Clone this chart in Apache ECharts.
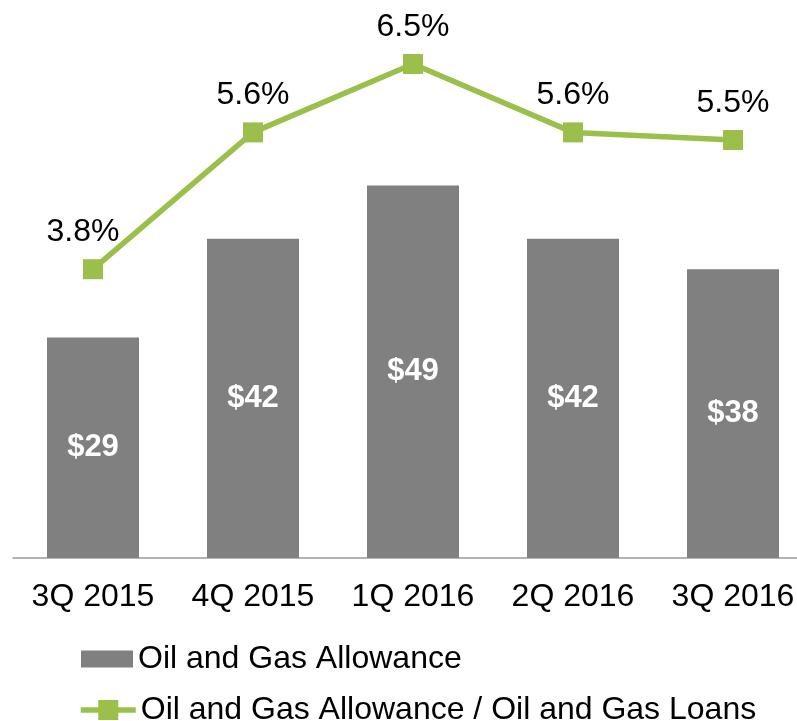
<!DOCTYPE html>
<html>
<head>
<meta charset="utf-8">
<script src="https://cdn.jsdelivr.net/npm/echarts@6/dist/echarts.min.js"></script>
<style>
  html, body { margin: 0; padding: 0; background: #fff; }
  #chart { width: 797px; height: 721px; }
</style>
</head>
<body>
<div id="chart"></div>
<script>
var quarters = ['3Q 2015', '4Q 2015', '1Q 2016', '2Q 2016', '3Q 2016'];
var allowance = [29, 42, 49, 42, 38];          // $ millions
var allowancePct = [3.8, 5.6, 6.5, 5.6, 5.5];  // % of oil and gas loans

var FONT = "'Liberation Sans', Arial, sans-serif";
var GREEN = '#9BBF4B';
var GREY = '#808080';

var chart = echarts.init(document.getElementById('chart'));

var option = {
    animation: false,
    textStyle: { fontFamily: FONT },
    // 5 categories of 160px; the last one runs past the right edge
    grid: { left: 13, width: 800, top: 26, bottom: 163, outerBoundsMode: 'none', containLabel: false },
    legend: [
        {
            data: ['Oil and Gas Allowance'],
            orient: 'vertical',
            left: 81, top: 643,
            padding: 0,
            icon: 'rect',
            itemWidth: 52, itemHeight: 17,
            textStyle: { fontSize: 32, lineHeight: 30, color: '#000', fontFamily: FONT }
        },
        {
            data: ['Oil and Gas Allowance / Oil and Gas Loans'],
            orient: 'vertical',
            left: 78, top: 694,
            padding: 0,
            itemWidth: 55, itemHeight: 25,
            lineStyle: { width: 5.5 },
            textStyle: { fontSize: 32, lineHeight: 30, color: '#000', fontFamily: FONT }
        }
    ],
    xAxis: {
        type: 'category',
        data: quarters,
        axisTick: { show: false },
        axisLine: { lineStyle: { color: '#9a9a9a', width: 1.5 } },
        axisLabel: { fontSize: 32, color: '#000', margin: 23, fontFamily: FONT, interval: 0 }
    },
    yAxis: [
        { type: 'value', min: 0, max: 70, show: false, splitLine: { show: false } },
        { type: 'value', min: 0, max: 7, show: false, splitLine: { show: false } }
    ],
    series: [
        {
            name: 'Oil and Gas Allowance',
            type: 'bar',
            data: allowance,
            barWidth: 92,
            itemStyle: { color: GREY },
            label: {
                show: true,
                position: 'inside',
                color: '#fff',
                fontSize: 31,
                fontWeight: 'bold',
                fontFamily: FONT,
                formatter: function (p) { return '$' + p.value; }
            }
        },
        {
            name: 'Oil and Gas Allowance / Oil and Gas Loans',
            type: 'line',
            yAxisIndex: 1,
            data: allowancePct.map(function (v, i) {
                return i === 0 ? { value: v, label: { offset: [-10, 0] } } : v;
            }),
            symbol: 'rect',
            symbolSize: 20,
            lineStyle: { color: GREEN, width: 5.5 },
            itemStyle: { color: GREEN },
            label: {
                show: true,
                position: 'top',
                distance: 11,
                color: '#000',
                fontSize: 32,
                fontFamily: FONT,
                formatter: function (p) { return p.value.toFixed(1) + '%'; }
            }
        }
    ]
};

chart.setOption(option);
</script>
</body>
</html>
